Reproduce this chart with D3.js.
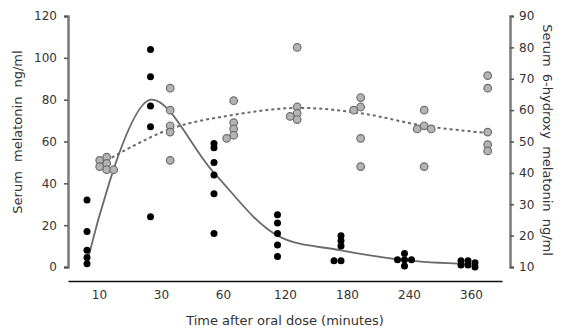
<!DOCTYPE html>
<html>
<head>
<meta charset="utf-8">
<script src="https://cdn.jsdelivr.net/npm/d3@7"></script>
<style>
body { margin: 0; background: #fff; }
text { font-family: "DejaVu Sans", Verdana, sans-serif; fill: #333; }
</style>
</head>
<body>
<script>
// sampling times (minutes)
const times = ["10", "30", "60", "120", "180", "240", "360"];

// serum melatonin ng/ml (left axis), one value per subject
const melatonin = [
  [32, 17, 8, 4.5, 1.5],
  [104, 91, 77, 67, 24],
  [59, 57, 50, 44, 35, 16],
  [25, 21, 16, 10.5, 5],
  [15, 12.5, 10, 3, 3],
  [6.5, 3.5, 3.5, 3.5, 0.5],
  [3, 3, 2, 1, 1, 0]
];
const melatoninFit = [2, 80, 45, 15, 8, 3.3, 1.4];

// serum 6-hydroxy melatonin ng/ml (right axis)
const hydroxy = [
  [45, 44, 43, 42, 41, 41],
  [67, 60, 55, 53, 44],
  [63, 56, 54, 52, 51],
  [80, 61, 59, 58, 57],
  [64, 61, 60, 51, 42],
  [60, 55, 54, 54, 42],
  [71, 67, 53, 49, 47]
];
const hydroxyFit = [44, 54, 58.5, 60.7, 59, 55, 52.7];

const leftTicks = [0, 20, 40, 60, 80, 100, 120];
const rightTicks = [10, 20, 30, 40, 50, 60, 70, 80, 90];

let width = 564,
    height = 334;

let svg = d3.select("body").append("svg")
    .attr("width", width)
    .attr("height", height);

        //scales
let x = d3.scalePoint().domain(times).range([87, 468]);
let xLab = d3.scalePoint().domain(times).range([68, 502]).padding(0.5);
let yL = d3.scaleLinear().domain([0, 120]).range([267, 16]);
let yR = d3.scaleLinear().domain([10, 90]).range([267, 16]);
let grayShift = x.step() * 0.31;

        //spread overlapping dots sideways (simple beeswarm)
function swarm(values, cx, yScale, minDist) {
    let placed = [];
    values.forEach(function (v) {
        let cy = yScale(v);
        let offsets = [0, -7, 7, -14, 14];
        for (let o of offsets) {
            let px = cx + o;
            let hit = placed.some(p => Math.hypot(p.x - px, p.y - cy) < minDist);
            if (!hit) { placed.push({x: px, y: cy}); return; }
        }
        placed.push({x: cx, y: cy});
    });
    return placed;
}

        //fit lines
let lineL = d3.line()
    .x((d, i) => x(times[i]))
    .y(d => yL(d))
    .curve(d3.curveCatmullRom);

let lineR = d3.line()
    .x((d, i) => x(times[i]) + grayShift)
    .y(d => yR(d))
    .curve(d3.curveCatmullRom);

svg.append("path")
    .attr("d", lineR(hydroxyFit))
    .attr("fill", "none")
    .attr("stroke", "#6a6a6a")
    .attr("stroke-width", 2)
    .attr("stroke-dasharray", "3,3");

svg.append("path")
    .attr("d", lineL(melatoninFit))
    .attr("fill", "none")
    .attr("stroke", "#6a6a6a")
    .attr("stroke-width", 1.8);

        //6-hydroxy melatonin dots
hydroxy.forEach(function (vals, i) {
    svg.append("g").selectAll("circle")
        .data(swarm(vals, x(times[i]) + grayShift, yR, 5))
        .enter()
        .append("circle")
            .attr("cx", d => d.x)
            .attr("cy", d => d.y)
            .attr("r", 3.8)
            .attr("fill", "#b4b4b4")
            .attr("stroke", "#6e6e6e")
            .attr("stroke-width", 1.2);
});

        //melatonin dots
melatonin.forEach(function (vals, i) {
    svg.append("g").selectAll("circle")
        .data(swarm(vals, x(times[i]), yL, 4))
        .enter()
        .append("circle")
            .attr("cx", d => d.x)
            .attr("cy", d => d.y)
            .attr("r", 3.5)
            .attr("fill", "#000");
});

        //axes
let gL = svg.append("g")
    .attr("transform", "translate(68,0)")
    .call(d3.axisLeft(yL).tickValues(leftTicks).tickSize(4).tickPadding(7));

let gR = svg.append("g")
    .attr("transform", "translate(510,0)")
    .call(d3.axisRight(yR).tickValues(rightTicks).tickSize(4).tickPadding(5));

[gL, gR].forEach(function (g) {
    g.select(".domain").attr("stroke", "#7a7a7a").attr("stroke-width", 2.5);
    g.selectAll(".tick line").attr("stroke", "#555").attr("stroke-width", 1.5);
    g.selectAll("text").style("font-size", "12px").attr("fill", "#333");
});

let gX = svg.append("g")
    .attr("transform", "translate(0,281)")
    .call(d3.axisBottom(xLab).tickSize(0).tickPadding(9));
gX.select(".domain").attr("stroke", "#111").attr("stroke-width", 1.5);
gX.selectAll("text").style("font-size", "12px").attr("fill", "#333");

        //axis titles
svg.append("text")
    .attr("x", 285)
    .attr("y", 325)
    .attr("text-anchor", "middle")
    .style("font-size", "13px")
    .text("Time after oral dose (minutes)");

svg.append("text")
    .attr("transform", "translate(22,132) rotate(-90)")
    .attr("text-anchor", "middle")
    .style("font-size", "13px")
    .style("word-spacing", "5px")
    .text("Serum melatonin ng/ml");

svg.append("text")
    .attr("transform", "translate(543,140) rotate(90)")
    .attr("text-anchor", "middle")
    .style("font-size", "13px")
    .style("word-spacing", "3px")
    .text("Serum 6-hydroxy melatonin ng/ml");
</script>
</body>
</html>
